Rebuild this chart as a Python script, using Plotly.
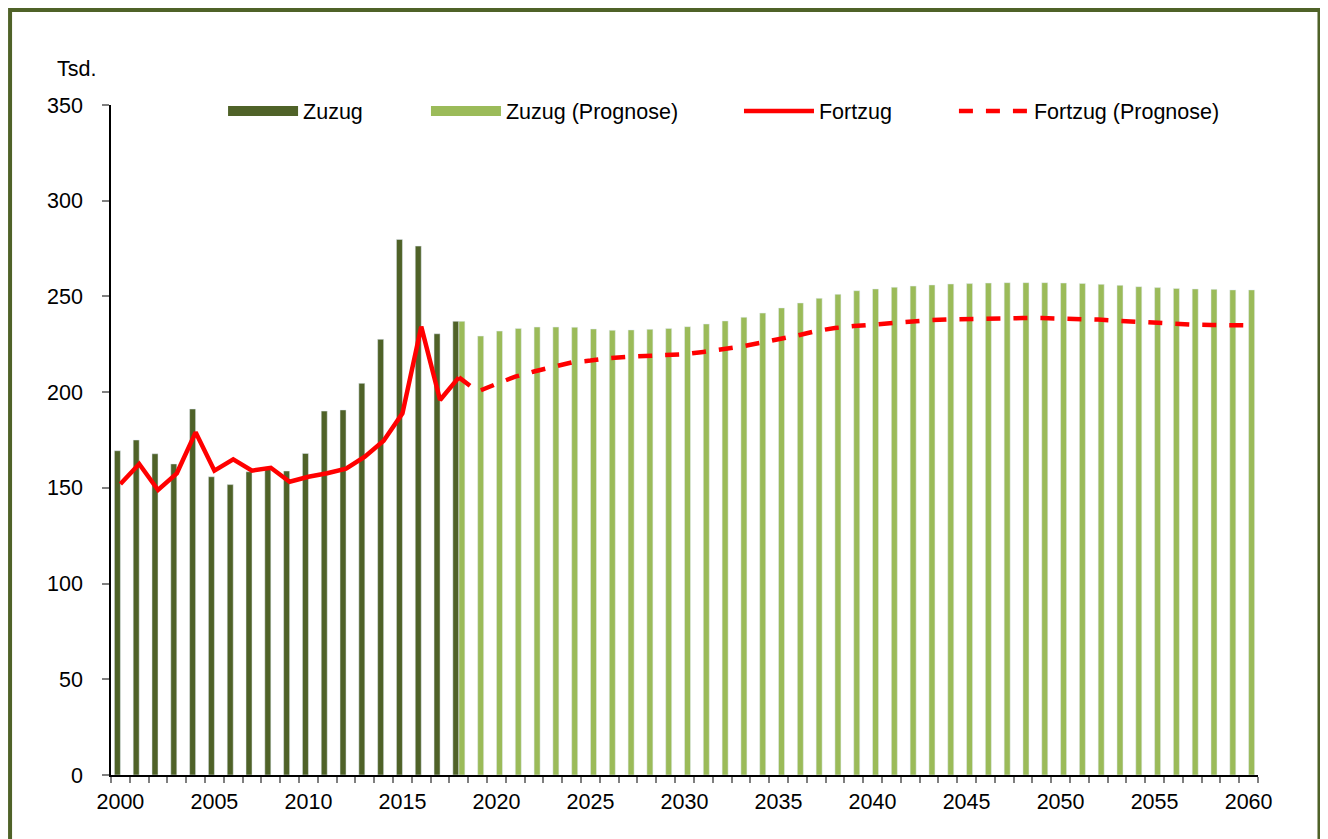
import plotly.graph_objects as go

years = list(range(2000, 2061))

zuzug_years = list(range(2000, 2019))
zuzug = [169.4, 175.0, 167.8, 162.5, 191.2, 155.8, 151.7, 158.4, 160.9, 158.8,
         168.0, 190.1, 190.7, 204.6, 227.6, 279.8, 276.3, 230.5, 237.0]

prog_years = list(range(2018, 2061))
zuzug_prognose = [237.0, 229.3, 231.9, 233.3, 234.0, 234.0, 233.9, 233.0, 232.3, 232.5,
                  232.8, 233.3, 234.2, 235.6, 237.2, 239.1, 241.3, 244.0, 246.6, 249.0,
                  251.1, 253.0, 253.9, 254.8, 255.4, 256.0, 256.5, 256.7, 257.0, 257.2,
                  257.2, 257.2, 257.0, 256.8, 256.3, 255.8, 255.1, 254.6, 254.2, 253.9,
                  253.7, 253.4, 253.4]

fortzug = [152.0, 162.5, 148.9, 157.6, 179.0, 159.0, 164.9, 159.0, 160.5, 153.2,
           155.8, 157.6, 160.0, 166.3, 174.6, 188.9, 234.2, 195.9, 207.7]

fortzug_prognose = [207.7, 200.3, 204.3, 208.1, 210.8, 213.4, 215.5, 216.5, 217.8, 218.5,
                    218.8, 219.3, 219.8, 221.0, 222.2, 223.8, 225.7, 227.5, 229.6, 231.9,
                    233.5, 234.5, 235.4, 236.2, 237.2, 237.6, 238.0, 238.3, 238.6, 238.7,
                    238.7, 238.7, 238.6, 238.3, 237.9, 237.3, 236.7, 236.2, 235.7, 235.3,
                    235.1, 235.0, 234.9]

label_years = list(range(2000, 2061, 5))
y_ticks = list(range(0, 351, 50))

DARK = "#4F6228"
LIGHT = "#9BBB59"
RED = "#FF0000"
FONT = "Arial, Liberation Sans, sans-serif"
FS = 21.5

fig = go.Figure()

fig.add_trace(go.Bar(x=zuzug_years, y=zuzug, name="Zuzug", marker_color=DARK,
                     offsetgroup="a", showlegend=False))
fig.add_trace(go.Bar(x=prog_years, y=zuzug_prognose, name="Zuzug (Prognose)",
                     marker_color=LIGHT, offsetgroup="b", showlegend=False))
fig.add_trace(go.Scatter(x=zuzug_years, y=fortzug, name="Fortzug", mode="lines",
                         line=dict(color=RED, width=4.5), legend="legend3"))
fig.add_trace(go.Scatter(x=prog_years, y=fortzug_prognose, name="Fortzug (Prognose)",
                         mode="lines", line=dict(color=RED, width=4.5, dash="14px,13px"),
                         legend="legend4"))
# legend swatches for the bar series (wide rectangles as in the original)
fig.add_trace(go.Scatter(x=[None], y=[None], name="Zuzug", mode="lines",
                         line=dict(color=DARK, width=11), legend="legend"))
fig.add_trace(go.Scatter(x=[None], y=[None], name="Zuzug (Prognose)", mode="lines",
                         line=dict(color=LIGHT, width=11), legend="legend2"))

boundaries = [y - 0.5 for y in years] + [2060.5]


def leg(x):
    return dict(orientation="h", x=x, xanchor="left", y=0.991, yanchor="middle",
                font=dict(size=FS, family=FONT, color="black"), itemwidth=70,
                bgcolor="rgba(0,0,0,0)")


fig.update_layout(
    width=1320, height=831,
    margin=dict(l=103, r=70, t=97, b=64),
    paper_bgcolor="white", plot_bgcolor="white",
    font=dict(family=FONT, size=FS, color="black"),
    barmode="group", bargap=0.36, bargroupgap=0,
    showlegend=True,
    legend=leg(0.0977), legend2=leg(0.2746), legend3=leg(0.5475), legend4=leg(0.7349),
    xaxis=dict(range=[1999.5, 2060.5], tickmode="array", tickvals=label_years,
               ticktext=[str(v) for v in label_years], ticks="", showgrid=False,
               showline=True, linecolor="black", linewidth=1.5, zeroline=False,
               ticklabelstandoff=6,
               minor=dict(tickmode="array", tickvals=boundaries, ticks="outside",
                          ticklen=6, tickcolor="#7f7f7f", tickwidth=1.5, showgrid=False)),
    xaxis2=dict(range=[1999.5, 2060.5], overlaying="x", anchor="y", side="bottom",
                tickmode="array", tickvals=boundaries, ticks="inside", ticklen=6,
                tickcolor="#7f7f7f", tickwidth=1.5, showticklabels=False,
                showgrid=False, showline=False, zeroline=False),
    yaxis=dict(range=[0, 350], tickmode="array", tickvals=y_ticks, ticks="outside",
               ticklen=7, tickcolor="#7f7f7f", tickwidth=1.5, showgrid=False,
               showline=True, linecolor="black", linewidth=1.5, zeroline=False,
               ticklabelstandoff=15),
    annotations=[dict(text="Tsd.", xref="paper", yref="paper", x=-0.0488, y=1.0537,
                      xanchor="left", yanchor="middle", showarrow=False,
                      font=dict(size=FS))],
    shapes=[dict(type="rect", xref="paper", yref="paper",
                 x0=-0.0880, x1=1.0536, y0=-0.12, y1=1.1418,
                 line=dict(color=DARK, width=4), fillcolor="rgba(0,0,0,0)", layer="below")],
)

fig.write_html("out.html")
